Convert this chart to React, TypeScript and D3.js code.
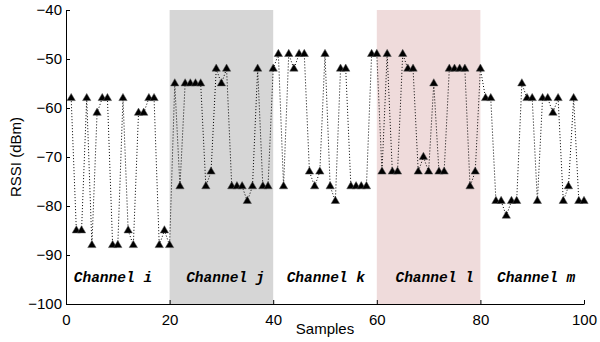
import { useEffect, useRef } from "react";
import * as d3 from "d3";

// RSSI readings, one per sample (samples 1..100)
const channelI = [-58, -85, -85, -58, -88, -61, -58, -58, -88, -88, -58, -85, -88, -61, -61, -58, -58, -88, -85, -88];
const channelJ = [-55, -76, -55, -55, -55, -55, -76, -73, -52, -55, -52, -76, -76, -76, -79, -76, -52, -76, -76, -52];
const channelK = [-49, -76, -49, -52, -49, -49, -73, -76, -73, -49, -76, -79, -52, -52, -76, -76, -76, -76, -49, -49];
const channelL = [-73, -49, -73, -73, -49, -52, -52, -73, -70, -73, -55, -73, -73, -52, -52, -52, -52, -76, -73, -52];
const channelM = [-58, -58, -79, -79, -82, -79, -79, -55, -58, -58, -79, -58, -58, -61, -58, -79, -76, -58, -79, -79];

const rssi = [...channelI, ...channelJ, ...channelK, ...channelL, ...channelM];

const channelNames = ["Channel i", "Channel j", "Channel k", "Channel l", "Channel m"];
const labelStarts = [1.5, 23.2, 42.6, 63.6, 83.2];
const shadedBands = [
	{ from: 20, to: 40, color: "#d6d6d6" },
	{ from: 60, to: 80, color: "#efdbdb" },
];
const xTicks = [0, 20, 40, 60, 80, 100];
const yTicks = [-100, -90, -80, -70, -60, -50, -40];

const App = () => {
	const svgRef = useRef<SVGSVGElement>(null);

	useEffect(() => {
		if (!svgRef.current) return;

		const width = 600;
		const height = 342;
		const margin = { top: 10, left: 66, right: 16, bottom: 38 };

		const svg = d3.select(svgRef.current);
		svg.selectAll("*").remove();

		const x = d3
			.scaleLinear()
			.domain([0, 100])
			.range([margin.left, width - margin.right]);
		const y = d3
			.scaleLinear()
			.domain([-100, -40])
			.range([height - margin.bottom, margin.top]);

		// background bands for channels j and l
		svg
			.selectAll(".band")
			.data(shadedBands)
			.enter()
			.append("rect")
			.attr("x", (d) => x(d.from))
			.attr("y", y(-40))
			.attr("width", (d) => x(d.to) - x(d.from))
			.attr("height", y(-100) - y(-40))
			.style("fill", (d) => d.color);

		const points = rssi.map((v, i) => ({ s: i + 1, v }));

		// dotted trace
		const line = d3
			.line<{ s: number; v: number }>()
			.x((d) => x(d.s))
			.y((d) => y(d.v));

		svg
			.append("path")
			.datum(points)
			.attr("d", line)
			.style("fill", "none")
			.style("stroke", "#000")
			.style("stroke-width", "1px")
			.style("stroke-dasharray", "1,2");

		// triangle markers
		const tri = d3.symbol().type(d3.symbolTriangle).size(30);
		svg
			.selectAll(".marker")
			.data(points)
			.enter()
			.append("path")
			.attr("d", tri)
			.attr("transform", (d) => `translate(${x(d.s)},${y(d.v)})`)
			.style("fill", "#000")
			.style("stroke", "#555")
			.style("stroke-width", "0.5px");

		// channel labels
		svg
			.selectAll(".chan")
			.data(channelNames)
			.enter()
			.append("text")
			.attr("x", (_d, i) => x(labelStarts[i]))
			.attr("y", y(-95.5))
			.text((d) => d)
			.style("font-family", "'Liberation Mono', 'DejaVu Sans Mono', monospace")
			.style("font-weight", "bold")
			.style("font-style", "italic")
			.style("font-size", "14.5px")
			.style("fill", "#000");

		// axes (MATLAB style, inward ticks, no box)
		const axisFont = "'Liberation Sans', Arial, sans-serif";
		const xAxis = svg
			.append("g")
			.attr("transform", `translate(0,${y(-100)})`)
			.call(
				d3
					.axisBottom(x)
					.tickValues(xTicks)
					.tickSizeInner(-4)
					.tickSizeOuter(0)
					.tickPadding(10)
			);
		const yAxis = svg
			.append("g")
			.attr("transform", `translate(${x(0)},0)`)
			.call(
				d3
					.axisLeft(y)
					.tickValues(yTicks)
					.tickSizeInner(-4)
					.tickSizeOuter(0)
					.tickPadding(4)
					.tickFormat((d) => `${d}`.replace("-", "\u2212"))
			);

		[xAxis, yAxis].forEach((a) => {
			a.select(".domain").style("stroke", "#000");
			a.selectAll(".tick line").style("stroke", "#000");
			a.selectAll("text")
				.style("font-family", axisFont)
				.style("font-size", "15px")
				.style("fill", "#000");
		});

		svg
			.append("text")
			.attr("x", x(50))
			.attr("y", 334)
			.attr("text-anchor", "middle")
			.text("Samples")
			.style("font-family", axisFont)
			.style("font-size", "15px");

		svg
			.append("text")
			.attr("transform", `translate(21,${y(-70)}) rotate(-90)`)
			.attr("text-anchor", "middle")
			.text("RSSI (dBm)")
			.style("font-family", axisFont)
			.style("font-size", "15px");
	}, []);

	return (
		<div style={{ position: "absolute", left: 0, top: 0 }}>
			<svg ref={svgRef} width={600} height={342} style={{ display: "block", background: "#fff" }} />
		</div>
	);
};

export default App;
